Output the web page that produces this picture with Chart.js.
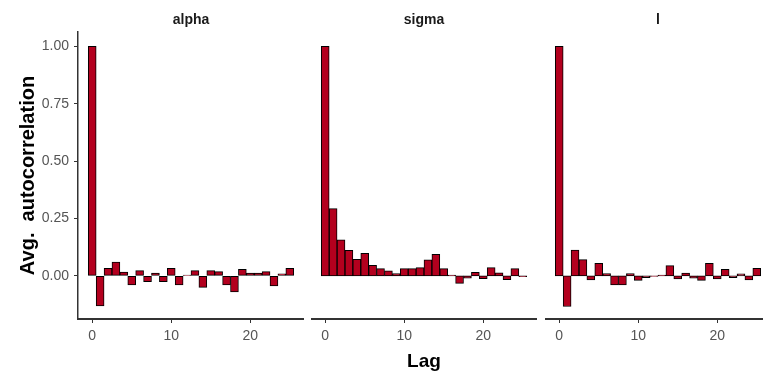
<!DOCTYPE html>
<html>
<head>
<meta charset="utf-8">
<title>Average autocorrelation by lag</title>
<script src="https://cdn.jsdelivr.net/npm/chart.js@4.4.1/dist/chart.umd.min.js"></script>
<style>
  html, body { margin: 0; padding: 0; background: #fff; overflow: hidden; }
  #wrap { position: relative; width: 763px; height: 376px; overflow: hidden; }
  #wrap canvas { position: absolute; top: 0; }
</style>
</head>
<body>
<div id="wrap">
  <canvas id="acfAlpha" width="304" height="376" style="left:0"></canvas>
  <canvas id="acfSigma" width="226" height="376" style="left:311px"></canvas>
  <canvas id="acfL" width="226" height="376" style="left:545px"></canvas>
</div>
<script>
const lags = [0, 1, 2, 3, 4, 5, 6, 7, 8, 9, 10, 11, 12, 13, 14, 15, 16, 17, 18, 19, 20, 21, 22, 23, 24, 25];

const alphaAcf = [1.00, -0.130, 0.033, 0.060, 0.017, -0.039, 0.023, -0.025, 0.013, -0.025, 0.033, -0.039, 0.004,
                  0.023, -0.050, 0.023, 0.019, -0.039, -0.070, 0.029, 0.013, 0.013, 0.019, -0.043, 0.009, 0.033];
const sigmaAcf = [1.00, 0.293, 0.157, 0.112, 0.072, 0.099, 0.046, 0.032, 0.022, 0.010, 0.032, 0.032, 0.036,
                  0.070, 0.094, 0.032, 0.004, -0.032, -0.010, 0.016, -0.012, 0.036, 0.014, -0.016, 0.032, -0.003];
const lAcf = [1.00, -0.133, 0.113, 0.071, -0.017, 0.055, 0.010, -0.039, -0.039, 0.010, -0.019, -0.007, -0.002,
              0.004, 0.045, -0.013, 0.013, -0.010, -0.019, 0.055, -0.013, 0.029, -0.007, 0.009, -0.017, 0.033];

const lagTicks = [0, 10, 20];
const acfTicks = [0, 0.25, 0.5, 0.75, 1];

const barFill = '#b3001e';
const barEdge = '#000000';
const axisColor = '#333333';
const tickText = '#555555';
const FONT = '"Liberation Sans", Arial, sans-serif';

// facet strip label, centred over each panel
const stripLabel = {
  id: 'strip',
  afterDraw(chart, args, opts) {
    const { ctx, chartArea } = chart;
    ctx.save();
    ctx.font = 'bold 14px ' + FONT;
    ctx.fillStyle = '#1a1a1a';
    ctx.textAlign = 'center';
    ctx.textBaseline = 'middle';
    ctx.fillText(opts.text, (chartArea.left + chartArea.right) / 2, 20);
    ctx.restore();
  }
};

function facet(id, label, values, showY, showXTitle) {
  return new Chart(document.getElementById(id), {
    type: 'bar',
    data: {
      datasets: [{
        data: lags.map((lag, i) => ({ x: lag, y: values[i] })),
        backgroundColor: barFill,
        borderColor: barEdge,
        borderWidth: 1,
        borderSkipped: false,
        barPercentage: 1,
        categoryPercentage: 1
      }]
    },
    options: {
      responsive: false,
      animation: false,
      events: [],
      layout: { padding: { top: 32 } },
      plugins: {
        legend: { display: false },
        tooltip: { enabled: false },
        strip: { text: label }
      },
      scales: {
        x: {
          type: 'linear',
          min: -1.8,
          max: 26.8,
          offset: false,
          afterBuildTicks: s => { s.ticks = lagTicks.map(v => ({ value: v })); },
          afterFit: s => { s.height = 57; },
          ticks: { color: tickText, font: { family: FONT, size: 14 }, padding: 5, maxRotation: 0 },
          grid: { offset: false, drawOnChartArea: false, drawTicks: true, tickLength: 4, color: axisColor, lineWidth: 1 },
          border: { display: true, color: axisColor, width: 2 },
          title: {
            display: showXTitle,
            text: 'Lag',
            color: '#000',
            font: { family: FONT, size: 19, weight: 'bold' },
            padding: { top: 0, bottom: 3 }
          }
        },
        y: {
          display: showY,
          min: -0.1875,
          max: 1.0625,
          afterBuildTicks: s => { s.ticks = acfTicks.map(v => ({ value: v })); },
          afterFit: s => { if (showY) s.width = 78; },
          ticks: { color: tickText, font: { family: FONT, size: 14 }, padding: 5, callback: v => v.toFixed(2) },
          grid: { drawOnChartArea: false, drawTicks: true, tickLength: 4, color: axisColor, lineWidth: 1 },
          border: { display: true, color: axisColor, width: 1.5 },
          title: {
            display: true,
            text: 'Avg.  autocorrelation',
            color: '#000',
            font: { family: FONT, size: 20, weight: 'bold' },
            padding: { top: 16, bottom: 0 }
          }
        }
      }
    },
    plugins: [stripLabel]
  });
}

facet('acfAlpha', 'alpha', alphaAcf, true, false);
facet('acfSigma', 'sigma', sigmaAcf, false, true);
facet('acfL', 'l', lAcf, false, false);
</script>
</body>
</html>
